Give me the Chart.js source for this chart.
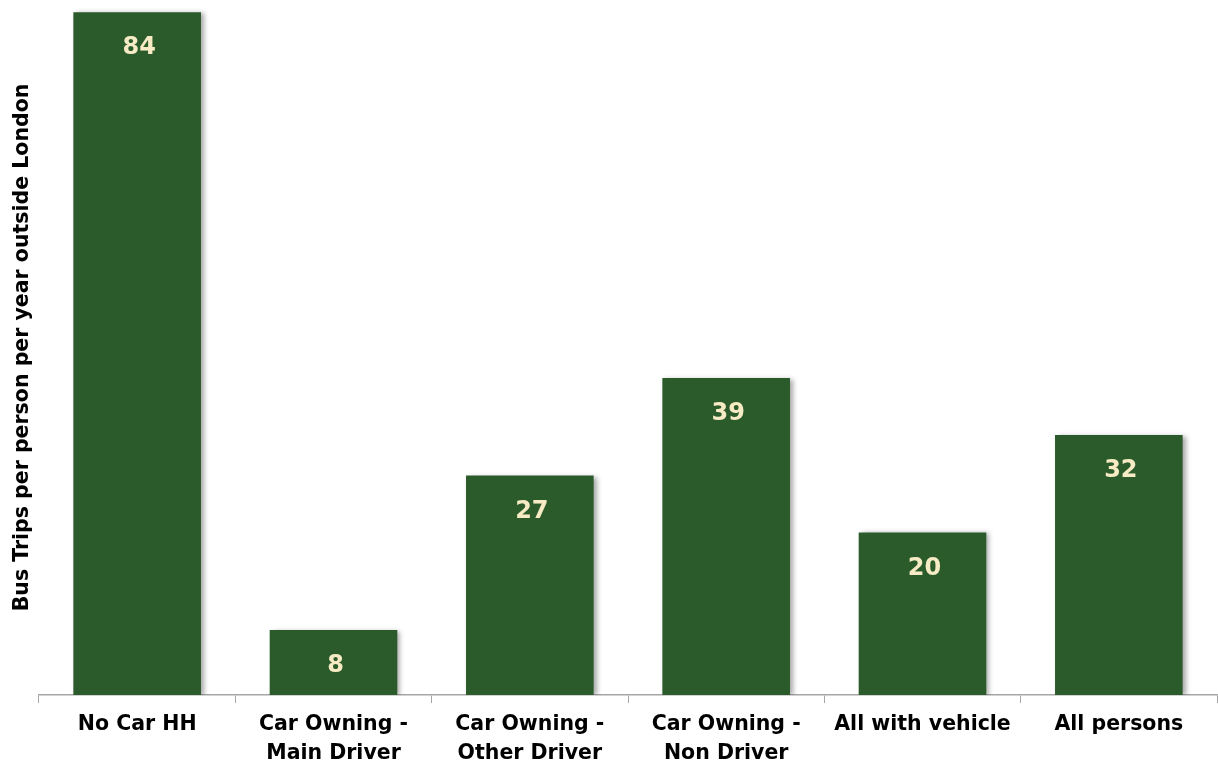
<!DOCTYPE html>
<html>
<head>
<meta charset="utf-8">
<script src="https://cdn.jsdelivr.net/npm/chart.js@4.4.1/dist/chart.umd.min.js"></script>
<style>
  html, body { margin: 0; padding: 0; background: #fff; }
  #wrap { width: 1218px; height: 765px; }
</style>
</head>
<body>
<div id="wrap"><canvas id="mychart"></canvas></div>
<script>
const categories = [
  'No Car HH',
  ['Car Owning -', 'Main Driver'],
  ['Car Owning -', 'Other Driver'],
  ['Car Owning -', 'Non Driver'],
  'All with vehicle',
  'All persons',
]
const busTrips = [84, 8, 27, 39, 20, 32]
const yTitle = 'Bus Trips per person per year outside London'

// bar values written inside the top of each bar
const valueLabels = {
  id: 'valueLabels',
  afterDatasetsDraw(chart) {
    const { ctx } = chart
    const meta = chart.getDatasetMeta(0)
    ctx.save()
    ctx.fillStyle = '#f6ebc4'
    ctx.font = 'bold 24px "DejaVu Sans"'
    ctx.textAlign = 'center'
    ctx.textBaseline = 'middle'
    meta.data.forEach((bar, i) => {
      ctx.fillText(busTrips[i], bar.x + 2, bar.y + 36)
    })
    ctx.restore()
  }
}

const barShadow = {
  id: 'barShadow',
  beforeDatasetDraw(chart) {
    const { ctx } = chart
    ctx.save()
    ctx.shadowColor = 'rgba(0,0,0,0.35)'
    ctx.shadowBlur = 5
    ctx.shadowOffsetX = 3
    ctx.shadowOffsetY = 1
  },
  afterDatasetDraw(chart) {
    chart.ctx.restore()
  }
}

const ctx = document.getElementById('mychart').getContext('2d')

new Chart(ctx, {
  type: 'bar',
  data: {
    labels: categories,
    datasets: [{
      label: yTitle,
      data: busTrips,
      backgroundColor: '#2b5a2b',
      barPercentage: 0.65,
      categoryPercentage: 1,
    }]
  },
  options: {
    responsive: true,
    maintainAspectRatio: false,
    animation: false,
    layout: { padding: { top: 0, right: 1, left: 0, bottom: 0 } },
    plugins: {
      legend: { display: false },
      tooltip: { enabled: false },
    },
    scales: {
      x: {
        grid: {
          offset: true,
          drawOnChartArea: false,
          tickLength: 8,
          color: '#a6a6a6',
        },
        border: { color: '#a6a6a6', width: 1.5 },
        ticks: {
          color: '#000',
          maxRotation: 0,
          autoSkip: false,
          padding: 7,
          font: { family: 'DejaVu Sans', size: 20.5, weight: 'bold', lineHeight: 1.42 },
        },
        afterFit(scale) { scale.height = 70 },
      },
      y: {
        min: 0,
        max: 85.5,
        grid: { display: false },
        border: { display: false },
        ticks: { display: false },
        title: {
          display: true,
          text: yTitle,
          color: '#000',
          font: { family: 'DejaVu Sans', size: 20.5, weight: 'bold' },
          padding: { top: 10, bottom: 0 },
        },
        afterFit(scale) { scale.width = 39 },
      }
    }
  },
  plugins: [barShadow, valueLabels]
})
</script>
</body>
</html>
